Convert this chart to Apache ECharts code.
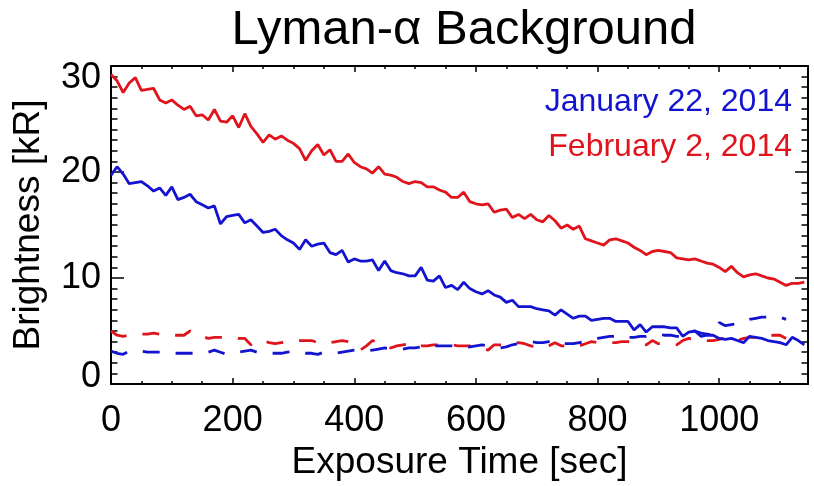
<!DOCTYPE html>
<html>
<head>
<meta charset="utf-8">
<script src="https://cdn.jsdelivr.net/npm/echarts@6/dist/echarts.min.js"></script>
<style>
  html, body { margin: 0; padding: 0; background: #fff; }
  #chart { width: 814px; height: 486px; }
</style>
</head>
<body>
<div id="chart"></div>
<script>
// exposure time [sec]
var times = [
  0, 10, 20, 30, 40, 50, 60, 70, 80, 90, 100, 110, 120, 130, 140, 150, 160, 170, 180, 190,
  200, 210, 220, 230, 240, 250, 260, 270, 280, 290, 300, 310, 320, 330, 340, 350, 360, 370, 380, 390,
  400, 410, 420, 430, 440, 450, 460, 470, 480, 490, 500, 510, 520, 530, 540, 550, 560, 570, 580, 590,
  600, 610, 620, 630, 640, 650, 660, 670, 680, 690, 700, 710, 720, 730, 740, 750, 760, 770, 780, 790,
  800, 810, 820, 830, 840, 850, 860, 870, 880, 890, 900, 910, 920, 930, 940, 950, 960, 970, 980, 990,
  1000, 1010, 1020, 1030, 1040, 1050, 1060, 1070, 1080, 1090, 1100, 1110, 1120, 1130, 1140
];

// January 22, 2014 (blue)
var janTotal = [
  19.7, 20.5, 19.8, 18.9, 19.0, 19.1, 18.7, 18.2, 18.5, 17.8, 18.6, 17.4, 17.6, 17.9, 17.2, 16.9, 16.6, 16.8, 15.1, 15.8,
  15.9, 16.0, 15.2, 15.5, 14.9, 14.3, 14.4, 14.6, 14.0, 13.6, 13.3, 12.7, 13.6, 13.0, 13.2, 13.3, 12.4, 12.2, 12.6, 11.5,
  11.8, 11.6, 11.6, 11.7, 10.7, 11.6, 10.7, 10.5, 10.4, 10.2, 10.2, 11.0, 9.8, 9.7, 10.2, 9.1, 9.3, 8.9, 9.6, 9.0,
  8.7, 8.5, 8.8, 8.4, 8.2, 7.7, 7.9, 7.3, 7.3, 7.3, 7.1, 7.0, 6.9, 6.5, 7.0, 6.6, 6.2, 6.4, 6.4, 6.0,
  6.1, 6.2, 6.2, 5.9, 5.9, 5.9, 5.1, 5.6, 4.9, 5.4, 5.4, 5.4, 5.3, 5.3, 4.5, 4.9, 5.0, 4.5, 4.6, 4.6,
  4.3, 4.2, 4.3, 4.1, 3.9, 4.5, 4.4, 4.3, 4.1, 4.0, 3.9, 3.7, 4.4, 4.1, 3.7
];
var janBackground = [
  3.1, 2.9, 2.8, 3.1, 3.1, 3.1, 3.0, 3.0, 3.0, 3.0, 2.9, 2.9, 2.9, 2.9, 2.9, 2.9, 3.0, 3.2, 3.0, 2.8,
  2.9, 3.0, 3.1, 3.2, 3.0, 3.0, 2.9, 2.9, 2.9, 3.0, 3.1, 3.0, 2.9, 2.9, 2.8, 3.0, 2.9, 2.9, 3.0, 3.1,
  3.2, 3.2, 3.1, 3.2, 3.3, 3.4, 3.3, 3.3, 3.3, 3.4, 3.4, 3.5, 3.7, 3.6, 3.6, 3.6, 3.6, 3.5, 3.4, 3.5,
  3.6, 3.7, 3.6, 3.5, 3.4, 3.5, 3.7, 3.8, 3.9, 4.0, 3.9, 3.9, 4.0, 4.1, 3.8, 3.8, 3.8, 3.9, 4.0, 4.2,
  4.3, 4.4, 4.5, 4.5, 4.6, 4.4, 4.4, 4.5, 4.5, 4.7, 4.7, 4.6, 4.6, 4.5, 4.5, 4.8, 5.0, 4.8, 4.7, 4.6,
  5.8, 5.5, 5.6, 5.7, 5.8, 6.1, 6.2, 6.3, 6.3, 6.4, 6.3, 6.1
];

// February 2, 2014 (red)
var febTotal = [
  29.2, 28.6, 27.5, 28.4, 28.9, 27.7, 27.8, 27.9, 26.8, 26.5, 26.8, 26.3, 25.9, 26.2, 25.3, 25.4, 24.9, 25.9, 24.8, 24.7,
  25.3, 24.2, 25.5, 24.3, 23.6, 22.8, 23.5, 23.1, 23.4, 23.0, 22.7, 22.2, 21.1, 22.0, 22.6, 21.6, 22.1, 21.0, 21.0, 21.7,
  20.9, 20.5, 20.3, 19.9, 20.5, 19.8, 19.7, 19.5, 19.1, 18.9, 19.1, 19.0, 18.6, 18.6, 18.3, 18.1, 17.6, 17.6, 18.1, 17.2,
  17.0, 16.9, 17.0, 16.2, 16.4, 16.5, 15.7, 16.0, 15.6, 16.0, 15.5, 15.3, 15.9, 15.4, 14.7, 15.0, 14.6, 14.9, 13.7, 13.5,
  13.3, 13.1, 13.6, 13.7, 13.5, 13.3, 12.9, 12.6, 12.2, 12.5, 12.6, 12.5, 12.4, 11.9, 11.8, 11.7, 11.8, 11.6, 11.4, 11.3,
  11.0, 10.6, 11.1, 10.5, 10.1, 10.3, 10.4, 10.2, 10.0, 9.9, 9.6, 9.3, 9.5, 9.5, 9.6
];
var febBackground = [
  5.0, 4.6, 4.5, 4.6, 4.6, 4.7, 4.7, 4.8, 4.7, 4.6, 4.6, 4.6, 4.6, 5.0, 4.6, 4.5, 4.3, 4.4, 4.4, 4.4,
  4.4, 4.3, 4.3, 3.7, 4.1, 4.1, 3.9, 3.8, 3.9, 4.0, 4.1, 4.1, 4.1, 4.1, 3.9, 3.8, 3.9, 4.0, 4.1, 4.0,
  3.8, 3.2, 3.6, 4.1, 3.9, 3.7, 3.4, 3.6, 3.7, 3.8, 3.5, 3.6, 3.6, 3.7, 3.7, 3.7, 3.7, 3.6, 3.6, 3.6,
  3.6, 3.4, 3.2, 3.7, 3.7, 3.7, 3.8, 3.9, 3.8, 3.6, 3.5, 3.4, 3.6, 3.9, 3.6, 3.6, 3.5, 3.6, 3.8, 4.0,
  3.9, 3.9, 3.9, 3.9, 4.0, 4.0, 3.9, 3.8, 3.7, 4.1, 3.8, 3.8, 3.7, 3.7, 4.1, 4.3, 4.2, 4.2, 4.1, 4.1,
  4.2, 4.4, 4.3, 4.1, 4.3, 4.4, 4.4, 4.5, 4.5, 4.6, 4.6, 4.3
];

var xTicks = [0, 200, 400, 600, 800, 1000];
var yTicks = [0, 10, 20, 30];

var BLUE = '#1414d0';
var RED = '#e0141c';
var FONT = 'Liberation Sans, Arial, Helvetica, sans-serif';

function pairs(xs, ys) {
  return ys.map(function (v, i) { return [xs[i], v]; });
}

var chart = echarts.init(document.getElementById('chart'), null, { renderer: 'canvas' });

// box axes: never move to zero of the other axis
var axisLine = { show: true, onZero: false, lineStyle: { color: '#000', width: 2 } };
var xTick = { show: true, inside: true, length: 6, lineStyle: { color: '#000', width: 1.5 } };
var xMinor = { show: true, splitNumber: 4, length: 3, lineStyle: { color: '#000', width: 1.5 } };
var yTick = { show: true, inside: true, length: 13, lineStyle: { color: '#000', width: 1.5 } };
var yMinor = { show: true, splitNumber: 10, length: 6.5, lineStyle: { color: '#000', width: 1.5 } };
var xMax = 1146;

chart.setOption({
  backgroundColor: '#fff',
  animation: false,
  textStyle: { fontFamily: FONT, color: '#000' },
  title: {
    text: 'Lyman-\u03b1 Background',
    left: 459,
    top: 1,
    textAlign: 'center',
    textStyle: { fontFamily: FONT, fontSize: 49, fontWeight: 'normal', color: '#000' }
  },
  legend: {
    orient: 'vertical',
    right: 12,
    top: 81,
    align: 'right',
    icon: 'none',
    itemWidth: 0,
    itemHeight: 0,
    itemGap: 13,
    selectedMode: false,
    textStyle: { fontFamily: FONT, fontSize: 32 },
    data: [
      { name: 'January 22, 2014', textStyle: { color: BLUE } },
      { name: 'February 2, 2014', textStyle: { color: RED } }
    ]
  },
  grid: { left: 111, right: 6, top: 66, bottom: 100, show: false },
  xAxis: [{
    type: 'value',
    min: xTicks[0],
    max: xMax,
    interval: xTicks[1] - xTicks[0],
    name: 'Exposure Time [sec]',
    nameLocation: 'middle',
    nameGap: 60,
    nameTextStyle: { fontFamily: FONT, fontSize: 37, color: '#000' },
    axisLine: axisLine,
    axisTick: xTick,
    minorTick: xMinor,
    axisLabel: {
      fontFamily: FONT, fontSize: 36, color: '#000', margin: 19, showMaxLabel: false,
      formatter: function (v) { return String(v); }
    },
    splitLine: { show: false }
  }, {
    type: 'value',
    position: 'top',
    min: xTicks[0],
    max: xMax,
    interval: xTicks[1] - xTicks[0],
    axisLine: axisLine,
    axisTick: xTick,
    minorTick: xMinor,
    axisLabel: { show: false },
    splitLine: { show: false }
  }],
  yAxis: [{
    type: 'value',
    min: yTicks[0],
    max: yTicks[yTicks.length - 1],
    interval: yTicks[1] - yTicks[0],
    name: 'Brightness [kR]',
    nameLocation: 'middle',
    nameRotate: 90,
    nameGap: 64,
    nameTextStyle: { fontFamily: FONT, fontSize: 37, color: '#000' },
    axisLine: axisLine,
    axisTick: yTick,
    minorTick: yMinor,
    axisLabel: {
      fontFamily: FONT, fontSize: 36, color: '#000', margin: 10,
      // end labels sit a little inside the box, as in the original plot
      formatter: function (v) {
        if (v === yTicks[0]) return '{lo|' + v + '}';
        if (v === yTicks[yTicks.length - 1]) return '{hi|' + v + '}';
        return String(v);
      },
      rich: {
        lo: { fontFamily: FONT, fontSize: 36, color: '#000', padding: [0, 0, 14, 0] },
        hi: { fontFamily: FONT, fontSize: 36, color: '#000', padding: [24, 0, 0, 0] }
      }
    },
    splitLine: { show: false }
  }, {
    type: 'value',
    position: 'right',
    min: yTicks[0],
    max: yTicks[yTicks.length - 1],
    interval: yTicks[1] - yTicks[0],
    axisLine: axisLine,
    axisTick: yTick,
    minorTick: yMinor,
    axisLabel: { show: false },
    splitLine: { show: false }
  }],
  series: [
    {
      name: 'February 2, 2014', type: 'line', showSymbol: false, symbol: 'none',
      data: pairs(times, febTotal),
      lineStyle: { color: RED, width: 2.8 }, itemStyle: { color: RED }
    },
    {
      name: 'February 2, 2014', type: 'line', showSymbol: false, symbol: 'none',
      data: pairs(times, febBackground),
      lineStyle: { color: RED, width: 2.8, type: [17, 16] }, itemStyle: { color: RED }
    },
    {
      name: 'January 22, 2014', type: 'line', showSymbol: false, symbol: 'none',
      data: pairs(times, janTotal),
      lineStyle: { color: BLUE, width: 2.8 }, itemStyle: { color: BLUE }
    },
    {
      name: 'January 22, 2014', type: 'line', showSymbol: false, symbol: 'none',
      data: pairs(times, janBackground),
      lineStyle: { color: BLUE, width: 2.8, type: [17, 16] }, itemStyle: { color: BLUE }
    }
  ]
});
</script>
</body>
</html>
